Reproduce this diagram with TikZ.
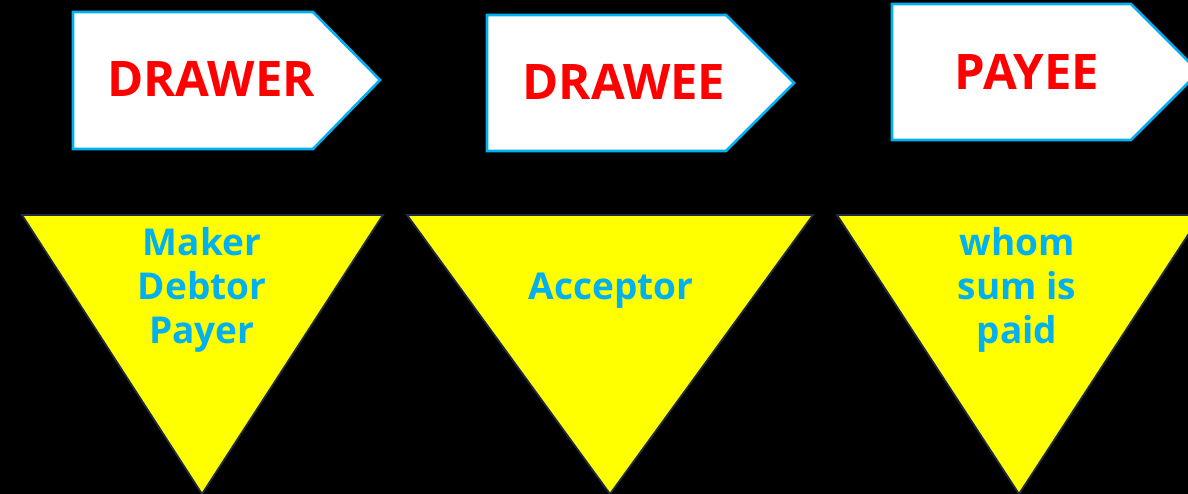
\documentclass[tikz,border=0pt]{standalone}
\usepackage{fontspec}
\setmainfont{Open Sans}
\definecolor{cyanb}{HTML}{00B0F0}
\definecolor{navyb}{HTML}{1F2A44}
\definecolor{yel}{HTML}{FFFF00}
\definecolor{redt}{HTML}{FF0000}
\tikzset{
  tag/.style={fill=white, draw=cyanb, line width=2.6pt, line join=miter},
  tri/.style={fill=yel, draw=navyb, line width=1.8pt, line join=miter},
  redlabel/.style={text=redt, font=\fontsize{49}{52}\selectfont\bfseries, anchor=base, inner sep=0pt},
  cyanlabel/.style={text=cyanb, font=\fontsize{37}{44}\selectfont\bfseries, anchor=base, inner sep=0pt, align=center}
}
\begin{document}
\begin{tikzpicture}[x=1pt, y=-1pt]
\useasboundingbox (0,0) rectangle (1188,494);
\fill[black] (0,0) rectangle (1188,494);
\clip (0,0) rectangle (1188,494);
% tags
\draw[tag] (73,12) -- (313,12) -- (380,80) -- (313,149) -- (73,149) -- cycle;
\draw[tag] (487,15) -- (726,15) -- (794,83) -- (726,151) -- (487,151) -- cycle;
\draw[tag] (892,4) -- (1131,4) -- (1199,72) -- (1131,140) -- (892,140) -- cycle;
\node[redlabel] (drawer) at (211,97) {DRAWER};
\node[redlabel] (drawee) at (624,100) {DRAWEE};
\node[redlabel] (payee) at (1027,90) {PAYEE};
% triangles
\draw[tri] (22,215) -- (383,215) -- (202,494) -- cycle;
\draw[tri] (407,215) -- (813,215) -- (610,494) -- cycle;
\draw[tri] (837,215) -- (1201,215) -- (1019,494) -- cycle;
\node[cyanlabel] (maker) at (202,343) {Maker\\Debtor\\Payer};
\node[cyanlabel] (acceptor) at (611,299) {Acceptor};
\node[cyanlabel] (whom) at (1017,343) {whom\\sum is\\paid};
\end{tikzpicture}
\end{document}
